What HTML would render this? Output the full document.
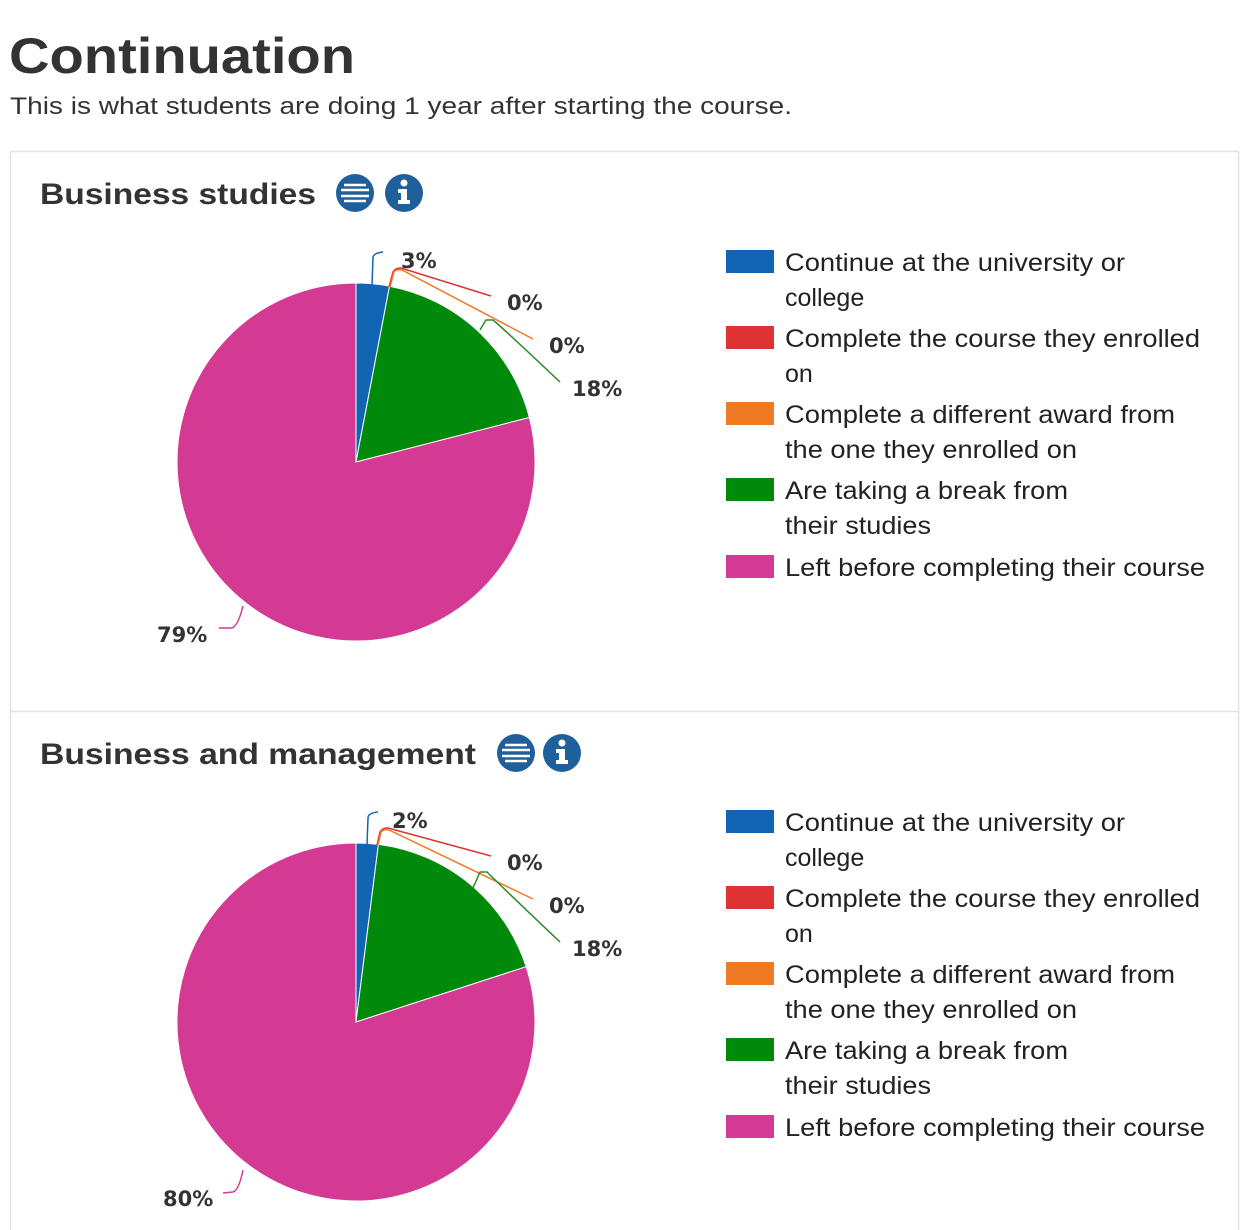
<!DOCTYPE html>
<html><head><meta charset="utf-8"><style>
html,body{margin:0;padding:0;background:#fff;}
svg{display:block}
.t{font-family:"Liberation Sans",Arial,sans-serif;fill:#333}
.lg{font-family:"Liberation Sans",Arial,sans-serif;font-size:25px;fill:#222}
.lb{font-family:"DejaVu Sans","Liberation Sans",sans-serif;font-weight:bold;font-size:21px;fill:#333}
</style></head><body>
<svg width="1248" height="1230" viewBox="0 0 1248 1230" xmlns="http://www.w3.org/2000/svg">
<text class="t" x="9" y="73" font-size="50" font-weight="bold" textLength="346" lengthAdjust="spacingAndGlyphs">Continuation</text>
<text class="t" x="10" y="114" font-size="24" textLength="782" lengthAdjust="spacingAndGlyphs">This is what students are doing 1 year after starting the course.</text>
<rect x="10.5" y="151.5" width="1228" height="1090" fill="none" stroke="#e3e3e3" stroke-width="1.5"/>
<line x1="10" y1="711.5" x2="1239" y2="711.5" stroke="#e3e3e3" stroke-width="1.5"/>

<!-- Chart 1 -->
<text class="t" x="40" y="204" font-size="30" font-weight="bold" textLength="276" lengthAdjust="spacingAndGlyphs">Business studies</text>
<g>
<circle cx="355" cy="193" r="19" fill="#1f609c"/>
<g stroke="#fff" stroke-width="2.5"><line x1="344" y1="185" x2="366" y2="185"/><line x1="341" y1="190" x2="369" y2="190"/><line x1="341" y1="196" x2="369" y2="196"/><line x1="344" y1="201" x2="366" y2="201"/></g>
<circle cx="404" cy="193" r="19" fill="#1f609c"/>
<circle cx="404" cy="183" r="3.5" fill="#fff"/><path d="M398 189h9v11h3v4h-12v-4h3v-7h-3z" fill="#fff"/>
</g>
<path d="M356 462 L356 283 A179 179 0 0 1 389.5 286.2 Z" fill="#1164b4" stroke="#fff" stroke-width="1"/>
<path d="M356 462 L389.5 286.2 A179 179 0 0 1 529.4 417.5 Z" fill="#008a0b" stroke="#fff" stroke-width="1"/>
<path d="M356 462 L529.4 417.5 A179 179 0 1 1 356 283 Z" fill="#d43a93" stroke="#fff" stroke-width="1"/>
<g fill="none" stroke-width="1.5">
<path d="M372 285 L373 258 Q373 253 383 252" stroke="#1164b4"/>
<path d="M389 287 L393 272 Q395 268 401 268 L491 296" stroke="#dd3333"/>
<path d="M390 287 L394 272 Q396 269 402 270 L533 339" stroke="#f07a24"/>
<path d="M480 330 L486 320 L493 320 Q505 330 560 382" stroke="#2a8a2a"/>
<path d="M219 628 L232 628 Q238 626 243 606" stroke="#d43a93"/>
</g>
<text class="lb" x="401" y="268">3%</text>
<text class="lb" x="507" y="310">0%</text>
<text class="lb" x="549" y="353">0%</text>
<text class="lb" x="572" y="396">18%</text>
<text class="lb" x="157" y="642">79%</text>

<g id="leg">
<rect x="726" y="250" width="48" height="23" fill="#1164b4"/>
<rect x="726" y="326" width="48" height="23" fill="#dd3333"/>
<rect x="726" y="402" width="48" height="23" fill="#f07a24"/>
<rect x="726" y="478" width="48" height="23" fill="#008a0b"/>
<rect x="726" y="555" width="48" height="23" fill="#d43a93"/>
<text class="lg" x="785" y="271" textLength="340" lengthAdjust="spacingAndGlyphs">Continue at the university or</text>
<text class="lg" x="785" y="306">college</text>
<text class="lg" x="785" y="347" textLength="415" lengthAdjust="spacingAndGlyphs">Complete the course they enrolled</text>
<text class="lg" x="785" y="382">on</text>
<text class="lg" x="785" y="423" textLength="390" lengthAdjust="spacingAndGlyphs">Complete a different award from</text>
<text class="lg" x="785" y="458" textLength="292" lengthAdjust="spacingAndGlyphs">the one they enrolled on</text>
<text class="lg" x="785" y="499" textLength="283" lengthAdjust="spacingAndGlyphs">Are taking a break from</text>
<text class="lg" x="785" y="534" textLength="146" lengthAdjust="spacingAndGlyphs">their studies</text>
<text class="lg" x="785" y="576" textLength="420" lengthAdjust="spacingAndGlyphs">Left before completing their course</text>
</g>

<!-- Chart 2 -->
<text class="t" x="40" y="764" font-size="30" font-weight="bold" textLength="436" lengthAdjust="spacingAndGlyphs">Business and management</text>
<g>
<circle cx="516" cy="753" r="19" fill="#1f609c"/>
<g stroke="#fff" stroke-width="2.5"><line x1="505" y1="745" x2="527" y2="745"/><line x1="502" y1="750" x2="530" y2="750"/><line x1="502" y1="756" x2="530" y2="756"/><line x1="505" y1="761" x2="527" y2="761"/></g>
<circle cx="562" cy="753" r="19" fill="#1f609c"/>
<circle cx="562" cy="743" r="3.5" fill="#fff"/><path d="M556 749h9v11h3v4h-12v-4h3v-7h-3z" fill="#fff"/>
</g>
<path d="M356 1022 L356 843 A179 179 0 0 1 378.4 844.4 Z" fill="#1164b4" stroke="#fff" stroke-width="1"/>
<path d="M356 1022 L378.4 844.4 A179 179 0 0 1 526.2 966.7 Z" fill="#008a0b" stroke="#fff" stroke-width="1"/>
<path d="M356 1022 L526.2 966.7 A179 179 0 1 1 356 843 Z" fill="#d43a93" stroke="#fff" stroke-width="1"/>
<g fill="none" stroke-width="1.5">
<path d="M367 845 L368 818 Q368 813 378 812" stroke="#1164b4"/>
<path d="M377 845 L380 832 Q382 828 388 828 L491 856" stroke="#dd3333"/>
<path d="M378 845 L381 832 Q383 829 389 830 L533 899" stroke="#f07a24"/>
<path d="M473 888 L480 872 L487 872 Q500 885 560 942" stroke="#2a8a2a"/>
<path d="M223 1193 L233 1192 Q239 1190 243 1170" stroke="#d43a93"/>
</g>
<text class="lb" x="392" y="828">2%</text>
<text class="lb" x="507" y="870">0%</text>
<text class="lb" x="549" y="913">0%</text>
<text class="lb" x="572" y="956">18%</text>
<text class="lb" x="163" y="1206">80%</text>

<g transform="translate(0,560)">
<rect x="726" y="250" width="48" height="23" fill="#1164b4"/>
<rect x="726" y="326" width="48" height="23" fill="#dd3333"/>
<rect x="726" y="402" width="48" height="23" fill="#f07a24"/>
<rect x="726" y="478" width="48" height="23" fill="#008a0b"/>
<rect x="726" y="555" width="48" height="23" fill="#d43a93"/>
<text class="lg" x="785" y="271" textLength="340" lengthAdjust="spacingAndGlyphs">Continue at the university or</text>
<text class="lg" x="785" y="306">college</text>
<text class="lg" x="785" y="347" textLength="415" lengthAdjust="spacingAndGlyphs">Complete the course they enrolled</text>
<text class="lg" x="785" y="382">on</text>
<text class="lg" x="785" y="423" textLength="390" lengthAdjust="spacingAndGlyphs">Complete a different award from</text>
<text class="lg" x="785" y="458" textLength="292" lengthAdjust="spacingAndGlyphs">the one they enrolled on</text>
<text class="lg" x="785" y="499" textLength="283" lengthAdjust="spacingAndGlyphs">Are taking a break from</text>
<text class="lg" x="785" y="534" textLength="146" lengthAdjust="spacingAndGlyphs">their studies</text>
<text class="lg" x="785" y="576" textLength="420" lengthAdjust="spacingAndGlyphs">Left before completing their course</text>
</g>
</svg>
</body></html>
